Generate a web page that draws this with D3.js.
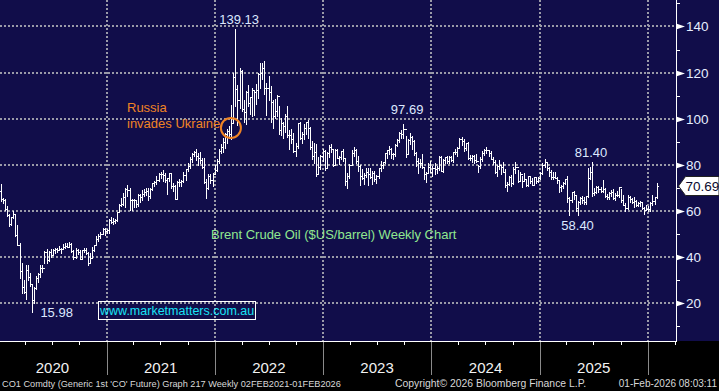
<!DOCTYPE html>
<html>
<head>
<meta charset="utf-8">
<script src="https://cdn.jsdelivr.net/npm/d3@7"></script>
<style>
  html, body { margin: 0; padding: 0; background: #000; }
  svg { display: block; }
</style>
</head>
<body>
<div id="viz"></div>
<script>
// weekly Brent bars, [high, low, close], one per Friday from 3 Jan 2020
const firstWeek = new Date(2020, 0, 3);

const weeks2020 = [
  [69.5,65.6,68.6],[71.75,64.4,64.98],[65.4,63.3,64.85],[65.1,60.4,60.69],[61.9,57.6,58.16],
  [58.5,53.3,54.47],[57.5,53.8,57.32],[60.0,56.9,58.5],[58.6,49.0,49.67],[53.9,45.0,45.27],
  [45.9,31.0,33.85],[37.2,24.5,26.98],[30.0,24.5,24.93],[36.3,21.7,34.11],[36.3,30.1,31.48],
  [33.0,27.5,28.08],[28.2,15.98,21.44],[27.0,19.9,26.44],[31.5,26.0,30.97],[33.0,28.9,32.5],
  [36.4,31.4,35.13],[36.5,33.6,35.33],[42.4,37.5,42.3],[43.4,37.3,38.73],[42.5,38.1,42.19],
  [43.5,40.0,41.02],[43.5,40.8,42.8],[43.7,41.9,43.24],[44.0,42.3,43.14],[44.8,42.9,43.34],
  [44.0,41.5,43.3],[45.8,43.3,44.4],[46.0,44.0,44.8],[46.2,44.1,44.35],[46.5,44.6,45.81],
  [46.2,42.2,42.66],[42.9,39.2,39.83],[43.7,39.6,43.15],[43.5,41.2,41.92],[42.8,38.9,39.27],
  [43.2,39.4,42.85],[43.9,42.2,42.93],[43.7,41.1,41.77],[42.1,36.6,37.46],[41.8,37.2,39.45],
  [44.2,39.5,42.78],[45.2,42.6,44.96],[49.1,45.0,47.88],[49.9,47.0,49.25],[51.0,48.2,50.0],
  [52.5,50.0,52.26],[52.5,49.3,51.29]
];
const weeks2021 = [
  [52.0,50.4,51.8],[56.3,50.4,55.99],[57.4,54.5,55.1],[56.7,54.2,55.41],[56.6,54.7,55.88],
  [59.6,55.6,59.34],[62.8,59.4,62.43],[65.5,61.9,62.91],[67.7,62.7,66.13],[69.8,61.5,69.36],
  [71.4,66.3,69.22],[69.9,60.5,64.53],[65.3,60.3,64.57],[65.3,61.6,64.86],[64.9,61.5,62.95],
  [67.2,62.3,66.77],[67.5,64.0,66.11],[69.0,64.9,67.25],[69.6,66.6,68.28],[70.0,67.0,68.71],
  [69.8,64.6,66.44],[69.8,65.6,69.63],[72.0,69.0,71.89],[73.1,70.6,72.69],[74.9,71.8,73.51],
  [76.6,73.0,76.18],[77.0,74.3,76.17],[77.8,73.0,75.55],[76.5,72.7,73.59],[74.3,67.4,74.1],
  [76.4,72.9,76.33],[76.0,69.9,70.7],[72.2,68.4,70.59],[71.4,65.0,65.18],[72.9,65.6,72.7],
  [73.7,70.6,72.61],[73.4,70.9,72.92],[76.7,72.4,75.34],[78.3,73.5,78.09],[80.8,77.1,79.28],
  [83.5,78.6,82.39],[85.1,81.0,84.86],[86.1,83.6,85.53],[86.7,82.0,83.72],[85.0,80.0,82.74],
  [85.5,80.6,82.17],[82.9,78.5,78.89],[82.9,72.0,72.72],[73.9,65.7,69.88],[76.0,69.5,75.15],
  [76.1,72.1,73.52],[76.3,70.6,76.14],[79.9,76.0,77.78]
];
const weeks2022 = [
  [82.4,77.5,81.75],[86.7,80.8,86.06],[89.1,85.2,87.89],[91.7,85.6,90.03],[93.7,87.4,93.27],
  [95.6,89.5,94.44],[96.8,91.6,93.54],[105.8,91.1,97.93],[119.8,98.5,118.11],[139.13,105.6,112.67],
  [114.7,97.4,107.93],[122.0,104.5,120.65],[121.3,103.5,104.39],[108.0,98.5,102.78],[112.0,97.6,111.7],
  [114.8,105.3,106.65],[109.5,101.9,109.34],[113.5,101.3,112.39],[112.6,101.7,111.55],[115.0,106.4,112.55],
  [119.6,108.9,119.43],[124.0,113.2,119.72],[124.0,117.0,122.01],[125.2,110.5,113.12],[115.5,101.5,113.12],
  [118.3,108.0,111.63],[114.0,98.5,107.02],[108.0,96.0,101.16],[108.7,100.2,103.2],[110.4,101.3,110.01],
  [105.5,93.2,94.92],[100.5,92.8,98.15],[98.6,91.5,96.72],[102.0,94.0,100.99],[105.6,92.0,93.02],
  [95.0,87.0,92.84],[95.3,89.3,91.35],[93.8,85.7,86.15],[89.5,83.6,87.96],[98.0,87.3,97.92],
  [98.7,91.0,91.63],[94.0,89.6,93.5],[97.6,91.2,95.77],[98.7,93.4,98.57],[99.6,91.6,95.99],
  [96.5,87.0,87.62],[90.5,82.3,83.63],[89.4,80.6,85.57],[89.1,75.1,76.1],[83.4,75.9,79.04],
  [84.3,78.2,83.92],[86.8,81.6,85.91]
];
const weeks2023 = [
  [86.4,77.6,78.57],[85.5,78.8,85.28],[88.4,83.3,87.63],[89.1,85.4,86.66],[86.9,79.6,79.94],
  [86.9,79.9,86.39],[87.0,82.8,83.0],[83.6,80.3,83.16],[86.0,82.5,85.83],[86.8,81.6,82.78],
  [83.0,71.4,72.97],[76.5,70.1,74.99],[80.2,74.2,79.77],[86.4,80.0,85.12],[87.5,83.8,86.31],
  [87.0,80.9,81.66],[83.6,77.2,79.54],[80.0,71.4,75.3],[78.0,73.9,74.17],[76.4,71.6,75.58],
  [78.5,74.8,76.95],[78.4,71.4,76.13],[78.7,74.3,74.79],[77.3,71.6,76.61],[77.5,73.1,73.85],
  [75.5,71.9,74.9],[78.5,74.1,78.47],[81.8,77.3,79.87],[81.3,78.5,81.07],[85.3,80.6,84.99],
  [86.4,82.8,86.24],[88.1,84.6,86.81],[87.3,83.1,84.8],[84.9,82.3,84.48],[89.0,84.0,88.55],
  [91.2,88.1,90.65],[94.2,90.0,93.93],[95.0,91.5,93.27],[97.69,91.8,95.31],[92.5,83.4,84.58],
  [91.0,84.6,90.89],[93.8,88.8,92.16],[92.5,86.7,90.48],[90.6,84.1,84.89],[85.7,79.4,81.43],
  [83.0,76.6,80.61],[82.6,79.0,80.58],[84.5,78.4,78.88],[79.0,73.8,75.84],[77.0,72.3,76.55],
  [80.6,76.2,79.07],[81.7,76.8,77.04]
];
const weeks2024 = [
  [79.4,75.1,78.76],[80.8,75.8,78.29],[79.4,76.2,78.56],[83.8,77.6,83.55],[83.9,77.1,77.33],
  [82.3,76.9,82.19],[83.5,80.8,83.47],[83.9,80.9,81.62],[84.0,80.8,83.55],[84.0,81.6,82.08],
  [85.7,81.1,85.34],[87.0,84.6,85.43],[87.5,84.0,87.48],[91.4,87.1,91.17],[92.2,88.4,90.45],
  [91.0,86.1,87.29],[89.6,86.3,89.5],[89.9,82.4,82.96],[84.2,82.0,82.79],[84.2,81.0,83.98],
  [84.1,80.7,82.12],[84.6,81.3,81.62],[79.9,76.8,79.62],[83.2,78.6,82.62],[86.0,81.8,85.24],
  [87.0,84.4,86.41],[87.9,84.9,86.54],[86.6,84.0,85.03],[85.8,82.3,82.63],[83.4,80.5,81.13],
  [81.9,76.4,76.81],[79.8,75.1,79.66],[82.1,78.1,79.68],[79.8,75.8,79.02],[81.4,76.7,76.93],
  [78.3,70.5,71.06],[72.6,68.7,71.61],[74.9,71.1,74.49],[75.5,70.9,71.98],[79.0,71.6,78.05],
  [81.2,76.3,79.04],[77.9,72.6,73.06],[76.9,72.8,76.05],[74.9,70.4,73.1],[76.2,72.9,73.87],
  [73.3,70.7,71.04],[75.3,70.8,75.17],[75.3,72.0,72.94],[74.4,71.0,71.12],[74.8,71.6,74.49],
  [74.4,72.1,72.94],[74.5,72.3,74.17]
];
const weeks2025 = [
  [76.7,73.6,76.51],[80.8,75.9,79.76],[82.6,79.2,81.03],[81.1,77.7,78.5],[79.1,75.3,76.76],
  [77.7,73.9,74.66],[77.0,74.0,74.74],[77.0,74.1,74.43],[74.8,71.9,73.18],[73.1,68.3,70.36],
  [71.4,68.7,70.58],[72.4,70.0,72.16],[74.0,71.6,73.63],[75.3,64.0,65.58],[66.0,58.4,64.76],
  [68.3,63.7,67.96],[68.6,65.3,66.87],[67.0,59.9,61.29],[64.2,58.4,63.91],[66.0,63.1,65.41],
  [66.4,63.4,64.78],[66.0,62.8,63.9],[66.6,62.8,66.47],[78.5,65.9,74.23],[79.0,73.8,77.01],
  [81.4,66.3,67.77],[70.0,66.9,68.3],[70.8,67.6,70.36],[70.8,68.2,69.28],[70.2,68.3,68.44],
  [73.5,68.2,69.67],[70.0,65.8,66.59],[67.2,65.0,65.85],[68.1,65.3,67.73],[69.2,66.6,68.12],
  [69.5,65.1,65.5],[67.9,64.9,66.99],[68.8,66.3,66.68],[70.3,66.2,70.13],[69.4,63.7,64.53],
  [67.0,62.6,62.73],[63.5,60.1,61.29],[66.8,60.9,65.94],[66.4,63.9,65.07],[65.6,63.3,63.63],
  [65.9,61.6,64.39],[64.7,62.0,62.56],[63.8,61.9,63.2],[64.2,62.3,63.75],[64.0,61.0,61.12],
  [61.5,58.7,60.47],[62.5,60.3,60.64]
];
const weeks2026 = [
  [61.9,60.0,60.75],[63.9,59.8,63.34],[66.8,62.7,64.13],[66.2,62.9,65.88],[71.9,65.5,70.69]
];

const yTicks = [20, 40, 60, 80, 100, 120, 140];
const yearLabels = ["2020", "2021", "2022", "2023", "2024", "2025"];
// labelled extremes: the value and the week it was hit
const extremeLabels = ["139.13", "97.69", "81.40", "58.40", "15.98"];
const extremeDates = [new Date(2022, 2, 7), new Date(2023, 8, 28), new Date(2025, 5, 23), new Date(2025, 3, 25), new Date(2020, 3, 22)];
const lastPrice = 70.69;

const footerLeft = "CO1 Comdty (Generic 1st 'CO' Future) Graph 217 Weekly 02FEB2021-01FEB2026";
const footerMid = "Copyright\u00a9 2026 Bloomberg Finance L.P.";
const footerRight = "01-Feb-2026 08:03:11";

let width = 719, height = 391;
let plotRight = 676, plotBottom = 341;
const navy = "#110d4a";
const font = "'Liberation Sans', Arial, sans-serif";
// where each extreme label sits relative to its bar: [dx, dy, anchor]
const labelPlace = [[5, -5, "middle"], [4, -10, "middle"], [0, -5, "middle"], [4, 15.5, "middle"], [9, 5, "start"]];

const weeks = [].concat(weeks2020, weeks2021, weeks2022, weeks2023, weeks2024, weeks2025, weeks2026);
const bars = weeks.map((w, i) => ({
  date: d3.timeWeek.offset(firstWeek, i),
  high: w[0], low: w[1], close: w[2],
  open: i ? weeks[i - 1][2] : 66.5
}));

const x = d3.scaleTime()
  .domain([new Date(2020, 0, 1), new Date(2026, 0, 1)])
  .range([-1.8, 648]);
const y = d3.scaleLinear()
  .domain([3.5, 151.5])
  .range([plotBottom, 0]);

const svg = d3.select("#viz")
  .append("svg")
  .attr("width", width)
  .attr("height", height);

svg.append("rect").attr("width", width).attr("height", height).attr("fill", "#000");
svg.append("rect").attr("width", width).attr("height", plotBottom).attr("fill", navy);

// dotted grid
const grid = svg.append("g")
  .attr("stroke", "#9a9aa8")
  .attr("stroke-width", 2)
  .attr("stroke-dasharray", "2,2");
grid.selectAll("line.h")
  .data(yTicks)
  .enter().append("line")
  .attr("x1", 0).attr("x2", plotRight)
  .attr("y1", d => Math.round(y(d))).attr("y2", d => Math.round(y(d)));
const yearStarts = d3.timeYear.range(new Date(2021, 0, 1), new Date(2026, 1, 1));
grid.selectAll("line.v")
  .data(yearStarts)
  .enter().append("line")
  .attr("x1", d => Math.round(x(d))).attr("x2", d => Math.round(x(d)))
  .attr("y1", 0).attr("y2", plotBottom);

// OHLC bars
svg.append("g")
  .attr("fill", "none")
  .attr("stroke", "#fff")
  .attr("stroke-width", 1)
  .attr("shape-rendering", "crispEdges")
  .selectAll("path")
  .data(bars)
  .enter().append("path")
  .attr("d", d => {
    const px = Math.round(x(d.date)) + 0.5;
    return `M${px},${Math.round(y(d.high))}V${Math.round(y(d.low)) + 1}` +
      `M${px - 1.5},${Math.round(y(d.open)) + 0.5}H${px}` +
      `M${px},${Math.round(y(d.close)) + 0.5}H${px + 1.5}`;
  });

// right axis
const axis = svg.append("g").attr("shape-rendering", "crispEdges");
axis.append("line")
  .attr("x1", plotRight + 0.5).attr("x2", plotRight + 0.5)
  .attr("y1", 0).attr("y2", plotBottom)
  .attr("stroke", "#fff");
axis.selectAll("line.minor")
  .data(d3.range(10, 151, 20))
  .enter().append("line")
  .attr("x1", plotRight).attr("x2", plotRight + 4)
  .attr("y1", d => Math.round(y(d)) + 0.5).attr("y2", d => Math.round(y(d)) + 0.5)
  .attr("stroke", "#fff");

const yLab = svg.append("g")
  .selectAll("g")
  .data(yTicks)
  .enter().append("g")
  .attr("transform", d => `translate(${plotRight},${Math.round(y(d)) + 0.5})`);
yLab.append("path")
  .attr("d", "M0,-3L9,0L0,3Z")
  .attr("fill", "#fff");
yLab.append("text")
  .attr("x", 10)
  .attr("dy", "0.36em")
  .attr("font-family", font)
  .attr("font-size", 13.5)
  .attr("fill", "#e6eeff")
  .text(d => d);

// bottom axis
svg.append("line")
  .attr("x1", 0).attr("x2", plotRight + 1)
  .attr("y1", plotBottom + 0.5).attr("y2", plotBottom + 0.5)
  .attr("stroke", "#fff")
  .attr("shape-rendering", "crispEdges");
svg.append("g")
  .attr("stroke", "#fff")
  .attr("shape-rendering", "crispEdges")
  .selectAll("line")
  .data(d3.timeMonth.every(3).range(new Date(2020, 0, 1), new Date(2026, 4, 1)))
  .enter().append("line")
  .attr("x1", d => Math.round(x(d)) + 0.5).attr("x2", d => Math.round(x(d)) + 0.5)
  .attr("y1", plotBottom).attr("y2", plotBottom + 4);
svg.append("g")
  .attr("stroke", "#8a8a8a")
  .attr("shape-rendering", "crispEdges")
  .selectAll("line")
  .data(yearStarts)
  .enter().append("line")
  .attr("x1", d => Math.round(x(d)) + 0.5).attr("x2", d => Math.round(x(d)) + 0.5)
  .attr("y1", plotBottom + 1).attr("y2", 375);
svg.append("g")
  .selectAll("text")
  .data(yearLabels)
  .enter().append("text")
  .attr("x", d => x(new Date(+d, 6, 2)))
  .attr("y", 373)
  .attr("text-anchor", "middle")
  .attr("font-family", font)
  .attr("font-size", 15)
  .attr("fill", "#f2f2f2")
  .text(d => d);

// high / low labels
svg.append("g")
  .selectAll("text")
  .data(extremeLabels)
  .enter().append("text")
  .attr("x", (d, i) => x(extremeDates[i]) + labelPlace[i][0])
  .attr("y", (d, i) => y(+d) + labelPlace[i][1])
  .attr("text-anchor", (d, i) => labelPlace[i][2])
  .attr("font-family", font)
  .attr("font-size", 13)
  .attr("fill", "#dde8ff")
  .text(d => d);

// last price tag
const tag = svg.append("g")
  .attr("transform", `translate(${plotRight + 2},${Math.round(y(lastPrice))})`);
tag.append("path")
  .attr("d", "M0.5,0L7.5,-9.5H41V9.5H7.5Z")
  .attr("fill", "#fff")
  .attr("stroke", "#222");
tag.append("text")
  .attr("x", 24.5)
  .attr("dy", "0.36em")
  .attr("text-anchor", "middle")
  .attr("font-family", font)
  .attr("font-size", 13.5)
  .attr("fill", "#0a0a30")
  .text(lastPrice.toFixed(2));

// annotations
const orange = "#f08424";
const invasion = new Date(2022, 1, 24);
svg.append("circle")
  .attr("cx", x(invasion))
  .attr("cy", y(96))
  .attr("r", 10)
  .attr("fill", "none")
  .attr("stroke", orange)
  .attr("stroke-width", 2);
svg.append("text")
  .attr("x", 127)
  .attr("font-family", font)
  .attr("font-size", 13)
  .attr("fill", orange)
  .selectAll("tspan")
  .data(["Russia", "invades Ukraine"])
  .enter().append("tspan")
  .attr("x", 127)
  .attr("y", (d, i) => 112 + i * 15.5)
  .text(d => d);

svg.append("text")
  .attr("x", 211)
  .attr("y", 239)
  .attr("font-family", font)
  .attr("font-size", 13)
  .attr("fill", "#90e890")
  .text("Brent Crude Oil ($US/barrel) Weekly Chart");

svg.append("rect")
  .attr("x", 98.5).attr("y", 301.5)
  .attr("width", 157).attr("height", 18)
  .attr("fill", "none")
  .attr("stroke", "#fff");
svg.append("text")
  .attr("x", 100)
  .attr("y", 315)
  .attr("font-family", font)
  .attr("font-size", 12.5)
  .attr("fill", "#19e3f5")
  .text("www.marketmatters.com.au");

// footer
const foot = svg.append("g")
  .attr("font-family", font)
  .attr("fill", "#d8d8d8");
foot.append("text").attr("x", 2).attr("y", 387).attr("font-size", 9.2).text(footerLeft);
foot.append("text").attr("x", 395).attr("y", 387).attr("font-size", 10.4).text(footerMid);
foot.append("text").attr("x", 717).attr("y", 387).attr("font-size", 10).attr("text-anchor", "end").text(footerRight);
</script>
</body>
</html>
